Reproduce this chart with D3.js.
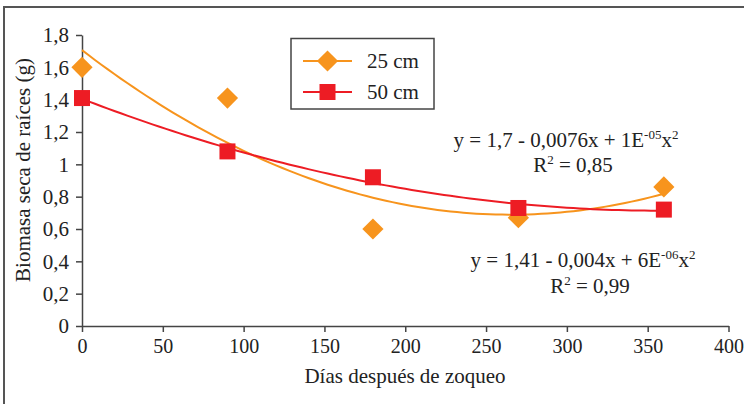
<!DOCTYPE html>
<html>
<head>
<meta charset="utf-8">
<script src="https://cdn.jsdelivr.net/npm/d3@7"></script>
<style>
  body { margin: 0; background: #fff; }
  .axis path, .axis line { stroke: #444; stroke-width: 1.5; }
</style>
</head>
<body>
<div id="chart"></div>
<script>
// data
var days = [0, 90, 180, 270, 360];
var depth25 = [1.6, 1.41, 0.6, 0.67, 0.86];
var depth50 = [1.41, 1.08, 0.92, 0.73, 0.72];
var seriesNames = ["25 cm", "50 cm"];
var xTicks = [0, 50, 100, 150, 200, 250, 300, 350, 400];
var yTicks = [0, 0.2, 0.4, 0.6, 0.8, 1, 1.2, 1.4, 1.6, 1.8];

var svgWidth = 744;
var svgHeight = 404;
var margin = { top: 35, left: 82 };
var width = 728.5 - margin.left;
var height = 326 - margin.top;

var serif = "Liberation Serif";
var textColor = "#222";
var orange = "#F7941D";
var red = "#ED1C24";

var svg = d3.select("#chart").append("svg")
  .attr("width", svgWidth)
  .attr("height", svgHeight)
  .attr("font-family", serif);

// outer frame (runs off the right and bottom edges)
svg.append("rect")
  .attr("x", 4).attr("y", 7)
  .attr("width", 760).attr("height", 420)
  .attr("fill", "none")
  .attr("stroke", "#555")
  .attr("stroke-width", 2);

var chartGroup = svg.append("g")
  .attr("transform", `translate(${margin.left}, ${margin.top})`);

var xScale = d3.scaleLinear().domain([0, 400]).range([0, width]);
var yScale = d3.scaleLinear().domain([0, 1.8]).range([height, 0]);

var fmt = d => String(d).replace(".", ",");

chartGroup.append("g")
  .attr("class", "axis")
  .attr("transform", `translate(0, ${height})`)
  .call(d3.axisBottom(xScale).tickValues(xTicks).tickSize(6).tickPadding(7).tickSizeOuter(0))
  .attr("font-family", serif)
  .attr("font-size", 20)
  .selectAll("text")
  .attr("font-family", serif)
  .attr("fill", textColor);

chartGroup.append("g")
  .attr("class", "axis")
  .call(d3.axisLeft(yScale).tickValues(yTicks).tickSize(6).tickPadding(7).tickFormat(fmt).tickSizeOuter(0))
  .attr("font-family", serif)
  .attr("font-size", 21)
  .selectAll("text")
  .attr("font-family", serif)
  .attr("fill", textColor);

// least squares quadratic trendline, like the spreadsheet does it
function quadFit(xs, ys) {
  var n = xs.length, s = [0, 0, 0, 0, 0], t = [0, 0, 0];
  for (var i = 0; i < n; i++) {
    for (var k = 0; k < 5; k++) s[k] += Math.pow(xs[i], k);
    for (var k = 0; k < 3; k++) t[k] += ys[i] * Math.pow(xs[i], k);
  }
  var A = [[s[0], s[1], s[2], t[0]], [s[1], s[2], s[3], t[1]], [s[2], s[3], s[4], t[2]]];
  for (var c = 0; c < 3; c++) {
    for (var r = c + 1; r < 3; r++) {
      var f = A[r][c] / A[c][c];
      for (var j = c; j < 4; j++) A[r][j] -= f * A[c][j];
    }
  }
  var b = [0, 0, 0];
  for (var r = 2; r >= 0; r--) {
    var v = A[r][3];
    for (var j = r + 1; j < 3; j++) v -= A[r][j] * b[j];
    b[r] = v / A[r][r];
  }
  return b;
}

function trendPoints(coef) {
  return d3.range(0, 361, 4).map(x => [x, coef[0] + coef[1] * x + coef[2] * x * x]);
}

var line = d3.line()
  .x(d => xScale(d[0]))
  .y(d => yScale(d[1]));

var fit25 = quadFit(days, depth25);
var fit50 = quadFit(days, depth50);

chartGroup.append("path")
  .datum(trendPoints(fit25))
  .attr("d", line)
  .attr("fill", "none")
  .attr("stroke", orange)
  .attr("stroke-width", 2);

chartGroup.append("path")
  .datum(trendPoints(fit50))
  .attr("d", line)
  .attr("fill", "none")
  .attr("stroke", red)
  .attr("stroke-width", 2);

// diamonds for 25 cm
chartGroup.selectAll(".d25")
  .data(days.map((d, i) => [d, depth25[i]]))
  .enter()
  .append("rect")
  .attr("class", "d25")
  .attr("x", -7.5).attr("y", -7.5)
  .attr("width", 15).attr("height", 15)
  .attr("transform", d => `translate(${xScale(d[0])}, ${yScale(d[1])}) rotate(45)`)
  .attr("fill", orange);

// squares for 50 cm
chartGroup.selectAll(".d50")
  .data(days.map((d, i) => [d, depth50[i]]))
  .enter()
  .append("rect")
  .attr("class", "d50")
  .attr("x", d => xScale(d[0]) - 8)
  .attr("y", d => yScale(d[1]) - 8)
  .attr("width", 16).attr("height", 16)
  .attr("fill", red);

// axis titles
svg.append("text")
  .attr("x", 405).attr("y", 383)
  .attr("text-anchor", "middle")
  .attr("font-family", serif)
  .attr("font-size", 21)
  .attr("fill", textColor)
  .text("Días después de zoqueo");

svg.append("text")
  .attr("transform", "translate(30, 170) rotate(-90)")
  .attr("text-anchor", "middle")
  .attr("font-family", serif)
  .attr("font-size", 21)
  .attr("fill", textColor)
  .text("Biomasa seca de raíces (g)");

// legend
var legend = svg.append("g");
legend.append("rect")
  .attr("x", 291).attr("y", 38.5)
  .attr("width", 143).attr("height", 70.5)
  .attr("fill", "#fff")
  .attr("stroke", "#444")
  .attr("stroke-width", 1.5);

[[orange, 61], [red, 92]].forEach(function(item, i) {
  legend.append("line")
    .attr("x1", 303).attr("x2", 352)
    .attr("y1", item[1]).attr("y2", item[1])
    .attr("stroke", item[0]).attr("stroke-width", 2);
  if (i === 0) {
    legend.append("rect")
      .attr("x", -7.5).attr("y", -7.5).attr("width", 15).attr("height", 15)
      .attr("transform", `translate(327.5, ${item[1]}) rotate(45)`)
      .attr("fill", item[0]);
  } else {
    legend.append("rect")
      .attr("x", 319.5).attr("y", item[1] - 8).attr("width", 16).attr("height", 16)
      .attr("fill", item[0]);
  }
  legend.append("text")
    .attr("x", 367).attr("y", item[1] + 7)
    .attr("font-family", serif)
    .attr("font-size", 21)
    .attr("fill", textColor)
    .text(seriesNames[i]);
});

// equations, superscripts raised with dy
function equation(x, y, parts) {
  var t = svg.append("text")
    .attr("x", x).attr("y", y)
    .attr("text-anchor", "middle")
    .attr("font-family", serif)
    .attr("font-size", 21)
    .attr("fill", textColor);
  parts.forEach(function(p) {
    var s = t.append("tspan").text(p[0]);
    if (p[1] === "up") s.attr("dy", -8).attr("font-size", 13);
    if (p[1] === "down") s.attr("dy", 8);
  });
}

equation(566, 147, [["y = 1,7 - 0,0076x + 1E"], ["-05", "up"], ["x", "down"], ["2", "up"]]);
equation(573, 172, [["R"], ["2", "up"], [" = 0,85", "down"]]);
equation(583, 267, [["y = 1,41 - 0,004x + 6E"], ["-06", "up"], ["x", "down"], ["2", "up"]]);
equation(590, 293, [["R"], ["2", "up"], [" = 0,99", "down"]]);
</script>
</body>
</html>
